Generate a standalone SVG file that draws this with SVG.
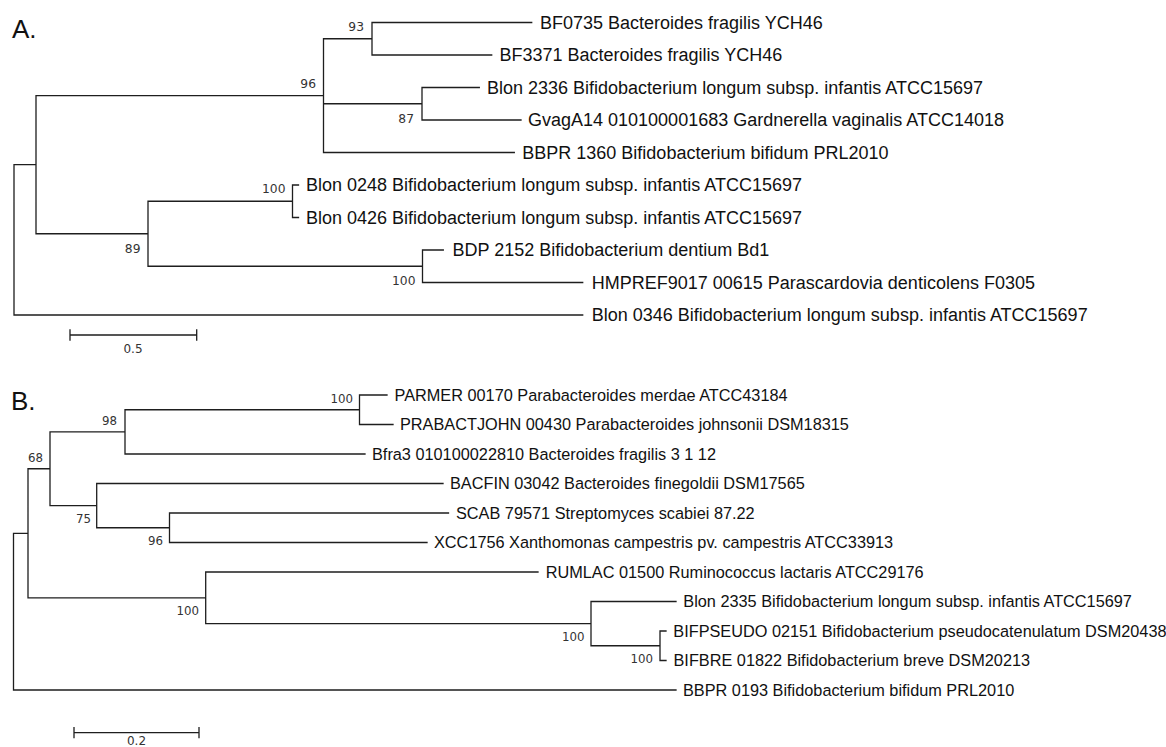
<svg xmlns="http://www.w3.org/2000/svg" width="1166" height="747" viewBox="0 0 1166 747">
<style>
.br{fill:none;stroke:#1e1e1e;stroke-width:1.3;stroke-linecap:square}
.ta{font-family:"Liberation Sans",Arial,sans-serif;font-size:18px;fill:#111}
.tb{font-family:"Liberation Sans",Arial,sans-serif;font-size:16.3px;fill:#111}
.bs{font-family:"DejaVu Sans",Verdana,sans-serif;font-size:12.3px;fill:#333;text-anchor:end}
.bsb{font-family:"DejaVu Sans",Verdana,sans-serif;font-size:11.8px;fill:#333;text-anchor:end}
.sc{font-family:"DejaVu Sans",Verdana,sans-serif;font-size:12px;fill:#333;text-anchor:middle}
.pl{font-family:"Liberation Sans",Arial,sans-serif;font-size:26px;fill:#111}
</style>
<rect width="1166" height="747" fill="#fff"/>
<text class="pl" x="12" y="37.5">A.</text>
<text class="pl" x="11" y="410">B.</text>

<g id="connectors">
<!-- Panel A -->
<path class="br" d="M14,164.7V315M14,164.7H36M14,315H582.7
M36,95.6V233.75M36,95.6H323.5M36,233.75H148
M323.5,38.75V152.5M323.5,38.75H372M323.5,103.75H422M323.5,152.5H514.3
M372,22.5V55M372,22.5H531.7M372,55H491.7
M422,87.5V120M422,87.5H479.3M422,120H521
M148,201.25V266.25M148,201.25H292.5M148,266.25H422.5
M292.5,185V217.5M292.5,185H298.5M292.5,217.5H298.5
M422.5,250V282.5M422.5,250H443.3M422.5,282.5H582.7"/>
<!-- Panel B -->
<path class="br" d="M13.5,533.3V690M13.5,533.3H28M13.5,690H676
M28,468.75V597.8M28,468.75H50M28,597.8H205.7
M50,431.9V505.6M50,431.9H125M50,505.6H96.7
M125,409.75V454M125,409.75H359.5M125,454H365
M359.5,395V424.5M359.5,395H387M359.5,424.5H393
M96.7,483.5V527.75M96.7,483.5H443M96.7,527.75H169.5
M169.5,513V542.5M169.5,513H448.5M169.5,542.5H427
M205.7,572V623.6M205.7,572H538M205.7,623.6H591
M591,601.5V645.75M591,601.5H676M591,645.75H660
M660,631V660.5M660,631H666M660,660.5H666"/>
<!-- scale bars -->
<path class="br" d="M70,335H196.7M70,330V340M196.7,330V340"/>
<path class="br" d="M74,732.7H199M74,727.7V737.7M199,727.7V737.7"/>
</g>

<g id="panelA-tips">
<g id="a-BF0735"><text class="ta" x="540" y="28.8">BF0735 Bacteroides fragilis YCH46</text></g>
<g id="a-BF3371"><text class="ta" x="499.5" y="61.3">BF3371 Bacteroides fragilis YCH46</text></g>
<g id="a-Blon2336"><text class="ta" x="487" y="93.8">Blon 2336 Bifidobacterium longum subsp. infantis ATCC15697</text></g>
<g id="a-GvagA14"><text class="ta" x="528" y="126.3">GvagA14 010100001683 Gardnerella vaginalis ATCC14018</text></g>
<g id="a-BBPR1360"><text class="ta" x="522.3" y="158.8">BBPR 1360 Bifidobacterium bifidum PRL2010</text></g>
<g id="a-Blon0248"><text class="ta" x="306" y="191.3">Blon 0248 Bifidobacterium longum subsp. infantis ATCC15697</text></g>
<g id="a-Blon0426"><text class="ta" x="306" y="223.8">Blon 0426 Bifidobacterium longum subsp. infantis ATCC15697</text></g>
<g id="a-BDP2152"><text class="ta" x="452.5" y="256.3">BDP 2152 Bifidobacterium dentium Bd1</text></g>
<g id="a-HMPREF9017"><text class="ta" x="591.7" y="288.8">HMPREF9017 00615 Parascardovia denticolens F0305</text></g>
<g id="a-Blon0346"><text class="ta" x="591.7" y="321.3">Blon 0346 Bifidobacterium longum subsp. infantis ATCC15697</text></g>
</g>
<g id="panelA-nodes">
<g id="a-n93"><text class="bs" x="364" y="31">93</text></g>
<g id="a-n96"><text class="bs" x="316" y="87.5">96</text></g>
<g id="a-n87"><text class="bs" x="414" y="123">87</text></g>
<g id="a-n100a"><text class="bs" x="285.5" y="193">100</text></g>
<g id="a-n89"><text class="bs" x="140.5" y="253">89</text></g>
<g id="a-n100b"><text class="bs" x="415.5" y="285">100</text></g>
<g id="a-scale"><text class="sc" x="133" y="353">0.5</text></g>
</g>

<g id="panelB-tips">
<g id="b-PARMER"><text class="tb" x="394.5" y="400.8">PARMER 00170 Parabacteroides merdae ATCC43184</text></g>
<g id="b-PRABACTJOHN"><text class="tb" x="400" y="430.3">PRABACTJOHN 00430 Parabacteroides johnsonii DSM18315</text></g>
<g id="b-Bfra3"><text class="tb" x="372" y="459.8">Bfra3 010100022810 Bacteroides fragilis 3 1 12</text></g>
<g id="b-BACFIN"><text class="tb" x="450" y="489.3">BACFIN 03042 Bacteroides finegoldii DSM17565</text></g>
<g id="b-SCAB"><text class="tb" x="456" y="518.8">SCAB 79571 Streptomyces scabiei 87.22</text></g>
<g id="b-XCC1756"><text class="tb" x="434" y="548.3">XCC1756 Xanthomonas campestris pv. campestris ATCC33913</text></g>
<g id="b-RUMLAC"><text class="tb" x="545.7" y="577.8">RUMLAC 01500 Ruminococcus lactaris ATCC29176</text></g>
<g id="b-Blon2335"><text class="tb" x="683.3" y="607.3">Blon 2335 Bifidobacterium longum subsp. infantis ATCC15697</text></g>
<g id="b-BIFPSEUDO"><text class="tb" x="673.3" y="636.8">BIFPSEUDO 02151 Bifidobacterium pseudocatenulatum DSM20438</text></g>
<g id="b-BIFBRE"><text class="tb" x="673.5" y="666.3">BIFBRE 01822 Bifidobacterium breve DSM20213</text></g>
<g id="b-BBPR0193"><text class="tb" x="683" y="695.8">BBPR 0193 Bifidobacterium bifidum PRL2010</text></g>
</g>
<g id="panelB-nodes">
<g id="b-n100p"><text class="bsb" x="353" y="403">100</text></g>
<g id="b-n98"><text class="bsb" x="117" y="425">98</text></g>
<g id="b-n68"><text class="bsb" x="43" y="462">68</text></g>
<g id="b-n75"><text class="bsb" x="91" y="523">75</text></g>
<g id="b-n96"><text class="bsb" x="163" y="545">96</text></g>
<g id="b-n100r"><text class="bsb" x="199" y="615">100</text></g>
<g id="b-n100c"><text class="bsb" x="584.5" y="641">100</text></g>
<g id="b-n100d"><text class="bsb" x="653" y="663">100</text></g>
<g id="b-scale"><text class="sc" x="136.5" y="744.5">0.2</text></g>
</g>
</svg>
